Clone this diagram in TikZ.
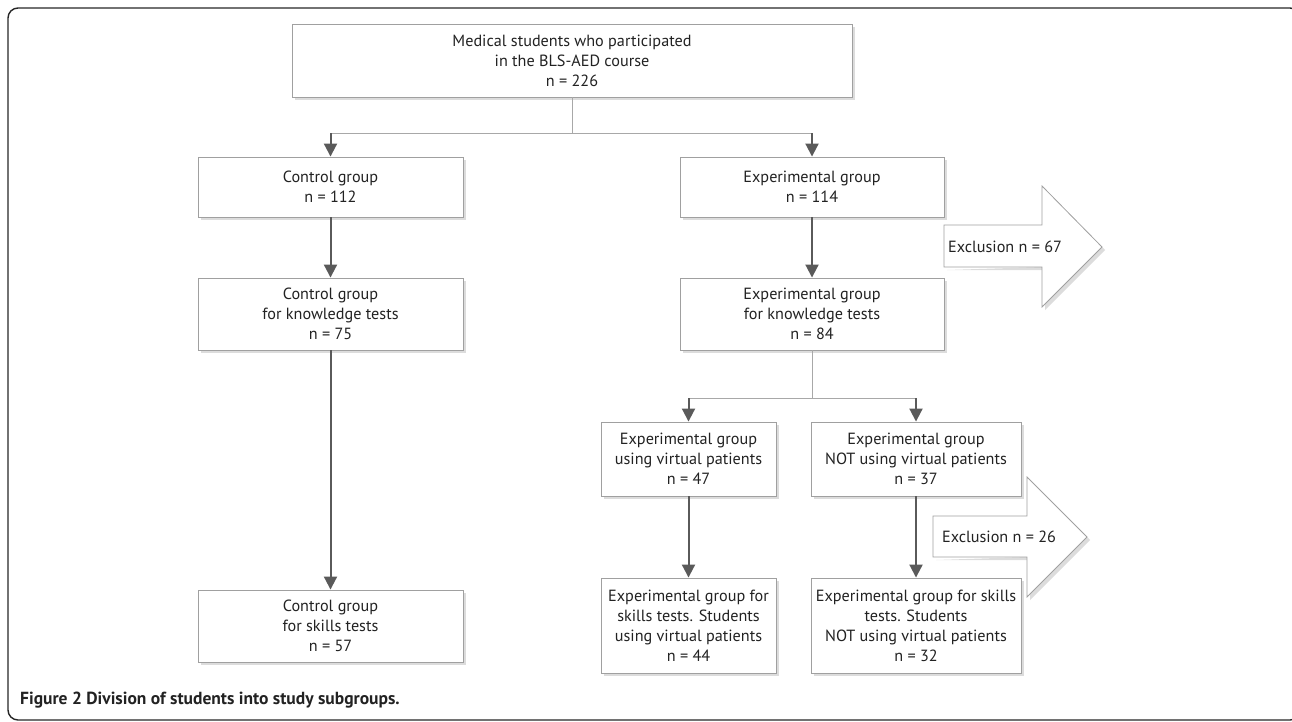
\documentclass[tikz,border=0pt]{standalone}
\usepackage{fontspec}
\setmainfont{PT Sans}
\usetikzlibrary{arrows.meta}
\definecolor{boxline}{HTML}{A0A0A0}
\definecolor{shadowc}{HTML}{DCDCDC}
\definecolor{arrowc}{HTML}{5A5A5A}
\definecolor{textc}{HTML}{222222}
\definecolor{thinline}{HTML}{A8A8A8}
\tikzset{
  fbox/.style={draw=boxline, line width=0.9pt, fill=white, align=center, inner sep=0pt,
    text=textc, font=\fontsize{16.2}{20}\selectfont},
  arr/.style={draw=arrowc, line width=2pt, -{Triangle[width=13pt,length=13pt]}},
  thinconn/.style={draw=thinline, line width=1pt},
  excl/.style={draw=boxline, line width=0.8pt, fill=white},
  excltext/.style={text=textc, font=\fontsize{16.2}{20}\selectfont, inner sep=0pt, anchor=west},
}
\begin{document}
\begin{tikzpicture}[x=1pt,y=-1pt]
\useasboundingbox (0,0) rectangle (1292,721);
% outer frame
\begin{scope}
\clip (0,0) rectangle (1292,721);
\draw[line width=1.4pt, draw=black!85, rounded corners=10pt] (8,8) rectangle (1300,720);
\end{scope}
% shadows
\foreach \x/\y/\w/\h in {572/60.5/560/73, 330.5/187/265/60, 812/187/264/60, 330.5/314/265/72, 812/314/264/72, 330.5/626/265/72, 688.5/459/175/74, 916/459/210/74, 688.5/625.5/175/95, 916/625.5/210/95}{
  \fill[shadowc] (\x-\w/2+3,\y-\h/2+3) rectangle (\x+\w/2+3,\y+\h/2+3);
}
% exclusion arrow shadows
\fill[shadowc] (947,270) -- (1045,270) -- (1045,310) -- (1105,250) -- (1102,247) -- (1042,307) -- (1042,267) -- cycle;
\fill[shadowc] (936,560) -- (1030,560) -- (1030,600) -- (1090,540) -- (1087,537) -- (1027,597) -- (1027,557) -- cycle;
% boxes
\node[fbox, minimum width=560pt, minimum height=73pt] (top) at (572,60.5) {Medical students who participated\\in the BLS-AED course\\n = 226};
\node[fbox, minimum width=265pt, minimum height=60pt] (ctrl) at (330.5,187) {Control group\\n = 112};
\node[fbox, minimum width=264pt, minimum height=60pt] (exp) at (812,187) {Experimental group\\n = 114};
\node[fbox, minimum width=265pt, minimum height=72pt] (ctrlk) at (330.5,314) {Control group\\for knowledge tests\\n = 75};
\node[fbox, minimum width=264pt, minimum height=72pt] (expk) at (812,314) {Experimental group\\for knowledge tests\\n = 84};
\node[fbox, minimum width=265pt, minimum height=72pt] (ctrls) at (330.5,626) {Control group\\for skills tests\\n = 57};
\node[fbox, minimum width=175pt, minimum height=74pt] (vp) at (688.5,459) {Experimental group\\using virtual patients\\n = 47};
\node[fbox, minimum width=210pt, minimum height=74pt] (nvp) at (916,459) {Experimental group\\NOT using virtual patients\\n = 37};
\node[fbox, minimum width=175pt, minimum height=95pt] (vps) at (688.5,625.5) {Experimental group for\\skills tests. Students\\using virtual patients\\n = 44};
\node[fbox, minimum width=210pt, minimum height=95pt] (nvps) at (916,625.5) {Experimental group for skills\\tests. Students\\NOT using virtual patients\\n = 32};
% exclusion arrows
\draw[excl] (944,225) -- (1042,225) -- (1042,186) -- (1102,247) -- (1042,307) -- (1042,267) -- (944,267) -- cycle;
\node[excltext] (ex1) at (948,247) {Exclusion n = 67};
\draw[excl] (933,516) -- (1027,516) -- (1027,477) -- (1087,537) -- (1027,597) -- (1027,557) -- (933,557) -- cycle;
\node[excltext] (ex2) at (942,537) {Exclusion n = 26};
% junction coordinates
\coordinate (j1) at (572,133);
\coordinate (jl) at (330.5,133);
\coordinate (jr) at (812,133);
\coordinate (j2) at (812,398);
\coordinate (kl) at (688.5,398);
\coordinate (kr) at (916,398);
% thin connectors
\draw[thinconn] (top.south) -- (j1);
\draw[thinconn] (jl) -- (jr);
\draw[thinconn] (expk.south) -- (j2);
\draw[thinconn] (kl) -- (kr);
% dark arrows
\draw[arr] (jl) -- (ctrl.north);
\draw[arr] (jr) -- (exp.north);
\draw[arr] (ctrl.south) -- (ctrlk.north);
\draw[arr] (ctrlk.south) -- (ctrls.north);
\draw[arr] (exp.south) -- (expk.north);
\draw[arr] (kl) -- (vp.north);
\draw[arr] (kr) -- (nvp.north);
\draw[arr] (vp.south) -- (vps.north);
\draw[arr] (nvp.south) -- (nvps.north);
% caption
\node[anchor=west, inner sep=0pt, text=textc, font=\bfseries\fontsize{17.5}{20}\selectfont] (cap) at (20,700) {Figure 2 Division of students into study subgroups.};
\end{tikzpicture}
\end{document}
